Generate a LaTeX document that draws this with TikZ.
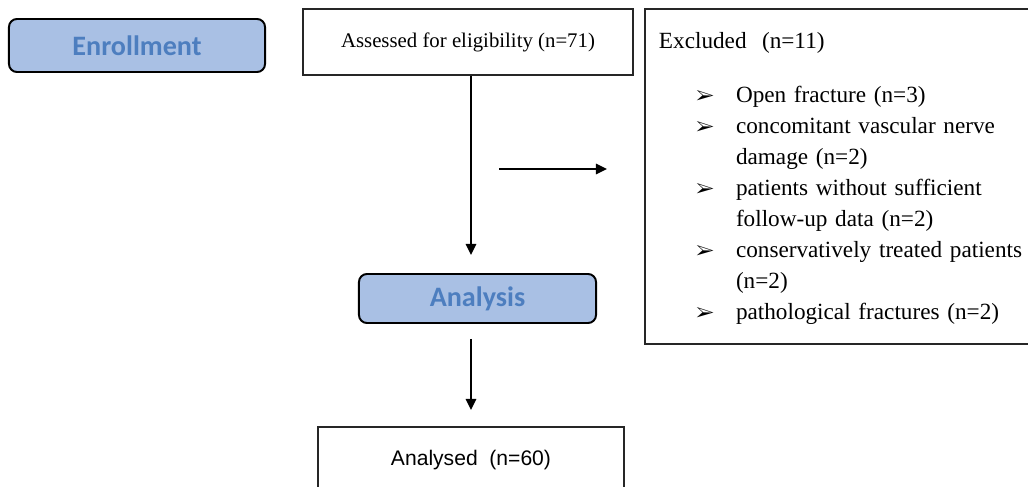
\documentclass[tikz,border=0pt]{standalone}
\usepackage{fontspec}
\usepackage{pifont}
\usetikzlibrary{arrows.meta}
\setmainfont{Liberation Serif}
\newfontfamily\calfont{Carlito}
\newfontfamily\arialfont{Liberation Sans}
\definecolor{stagefill}{HTML}{A9C0E4}
\definecolor{stagetext}{HTML}{4D7EBF}
\newcommand{\exbullet}{{\fontsize{14}{14}\selectfont\ding{226}}}
\tikzset{
stage/.style={draw=black, line width=1.4pt, rounded corners=0.2cm,
  fill=stagefill, text=stagetext, inner sep=0pt,
  font=\calfont\bfseries\fontsize{20}{24}\selectfont},
infobox/.style={draw=black!85, line width=1.4pt, inner sep=0pt},
arr/.style={line width=1.4pt, -{Triangle[length=0.28cm,width=0.26cm]}}
}

\begin{document}
\begin{tikzpicture}[x=0.025cm, y=-0.025cm]
\useasboundingbox (0,0) rectangle (1028,487);
% stages
\node[stage, minimum width=6.4cm, minimum height=1.325cm] (enroll) at (137,45.5) {Enrollment};
\node[stage, minimum width=5.925cm, minimum height=1.225cm] (ana) at (477.5,298.5) {Analysis};
% boxes
\node[infobox, minimum width=8.25cm, minimum height=1.65cm,
  font=\fontsize{14.8}{18}\selectfont] (assess) at (468,42) {Assessed for eligibility (n=71)};
\node[infobox, anchor=north, minimum width=7.65cm, minimum height=1.65cm,
  font=\arialfont\fontsize{15}{18}\selectfont] (result) at (471,426) {Analysed\ \ (n=60)};
\node[infobox, anchor=north west, minimum width=9.9cm, minimum height=8.375cm,
  text width=9.2cm, inner xsep=0.35cm, align=left,
  font=\fontsize{16.5}{22.1}\selectfont] (excl) at (644,8) {\rule{0pt}{0.6cm}Excluded\ \ (n=11)\\[0.57cm]
  \begin{tabular}[t]{@{\hspace{0.925cm}}p{1cm}@{}l@{}}
  \exbullet & Open fracture (n=3)\\
  \exbullet & concomitant vascular nerve\\
            & damage (n=2)\\
  \exbullet & patients without sufficient\\
            & follow-up data (n=2)\\
  \exbullet & conservatively treated patients\\
            & (n=2)\\
  \exbullet & pathological fractures (n=2)
  \end{tabular}};
% arrows
\coordinate (sidefrom) at (499,169);
\coordinate (sideto) at (607,169);
\draw[arr, shorten >=0.45cm] (assess.south -| result.north) -- (result.north |- ana.north);
\draw[arr] (sidefrom) -- (sideto);
\draw[arr, shorten <=0.375cm, shorten >=0.4cm] (result.north |- ana.south) -- (result.north);
\end{tikzpicture}
\end{document}
